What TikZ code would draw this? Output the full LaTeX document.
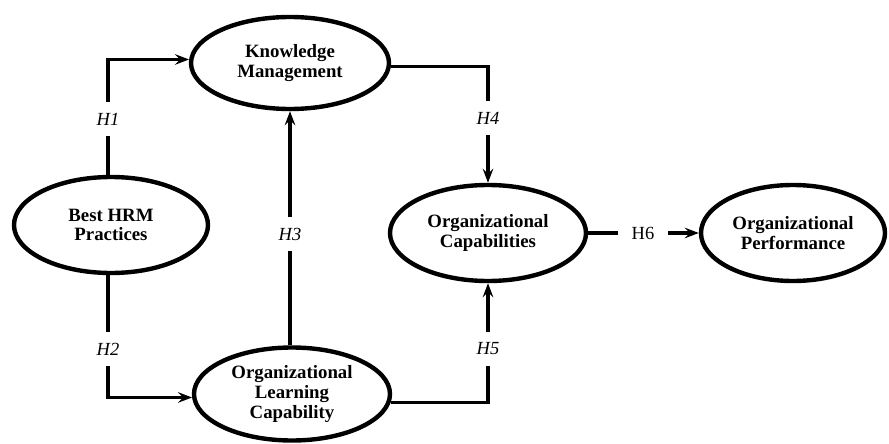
\documentclass[tikz,border=0pt]{standalone}
\usepackage{fontspec}
\setmainfont{Liberation Serif}
\usetikzlibrary{shapes.geometric,arrows.meta}

\begin{document}
\begin{tikzpicture}[x=1pt,y=-1pt,
  construct/.style={ellipse, draw, line width=4.4pt, inner sep=0pt,
    align=center, font=\bfseries\fontsize{18.8}{19.8}\selectfont},
  hyp/.style={inner sep=0pt, minimum height=34pt, minimum width=40pt,
    font=\itshape\fontsize{18.5}{20}\selectfont},
  link/.style={line width=3.1pt},
  arrowlink/.style={link, -{Stealth[length=14pt,width=10.5pt,inset=5pt]}}
]
\useasboundingbox (0,0) rectangle (889,444);

% constructs
\node[construct, minimum width=198pt, minimum height=92pt] (km)   at (290,63)  {Knowledge\\Management};
\node[construct, minimum width=194pt, minimum height=96pt] (bhrm) at (111,225) {Best HRM\\Practices};
\node[construct, minimum width=196pt, minimum height=93pt] (olc)  at (292,394) {Organizational\\Learning\\Capability};
\node[construct, minimum width=196pt, minimum height=96pt] (oc)   at (488,233) {Organizational\\Capabilities};
\node[construct, minimum width=184pt, minimum height=96pt] (op)   at (793,233) {Organizational\\Performance};

% hypothesis labels
\node[hyp] (h1) at (108,119) {H1};
\node[hyp] (h2) at (108,349) {H2};
\node[hyp] (h3) at (290,234) {H3};
\node[hyp] (h4) at (488,118) {H4};
\node[hyp] (h5) at (488,349) {H5};
\node[hyp, font=\fontsize{18.5}{20}\selectfont, minimum width=50pt] (h6) at (643,233) {H6};

% H1: HRM practices -> knowledge management
\draw[link] (h1.south) -- (h1.south |- bhrm.north);
\draw[arrowlink] (h1.north) |- (km.178.5);

% H2: HRM practices -> learning capability
\draw[link] (h2.north) -- (h2.north |- bhrm.south);
\draw[arrowlink] (h2.south) |- (olc.182);

% H3: learning capability -> knowledge management
\draw[link] (h3.south) -- (h3.south |- olc.north);
\draw[arrowlink] (h3.north) -- (h3.north |- km.south);

% H4: knowledge management -> capabilities
\draw[link] (km.-2.5) -| (h4.north);
\draw[arrowlink] (h4.south) -- (oc.north);

% H5: learning capability -> capabilities
\draw[link] (olc.-5.4) -| (h5.south);
\draw[arrowlink] (h5.north) -- (oc.south);

% H6: capabilities -> performance
\draw[link] (oc.east) -- (h6.west);
\draw[arrowlink] (h6.east) -- (op.west);
\end{tikzpicture}
\end{document}
